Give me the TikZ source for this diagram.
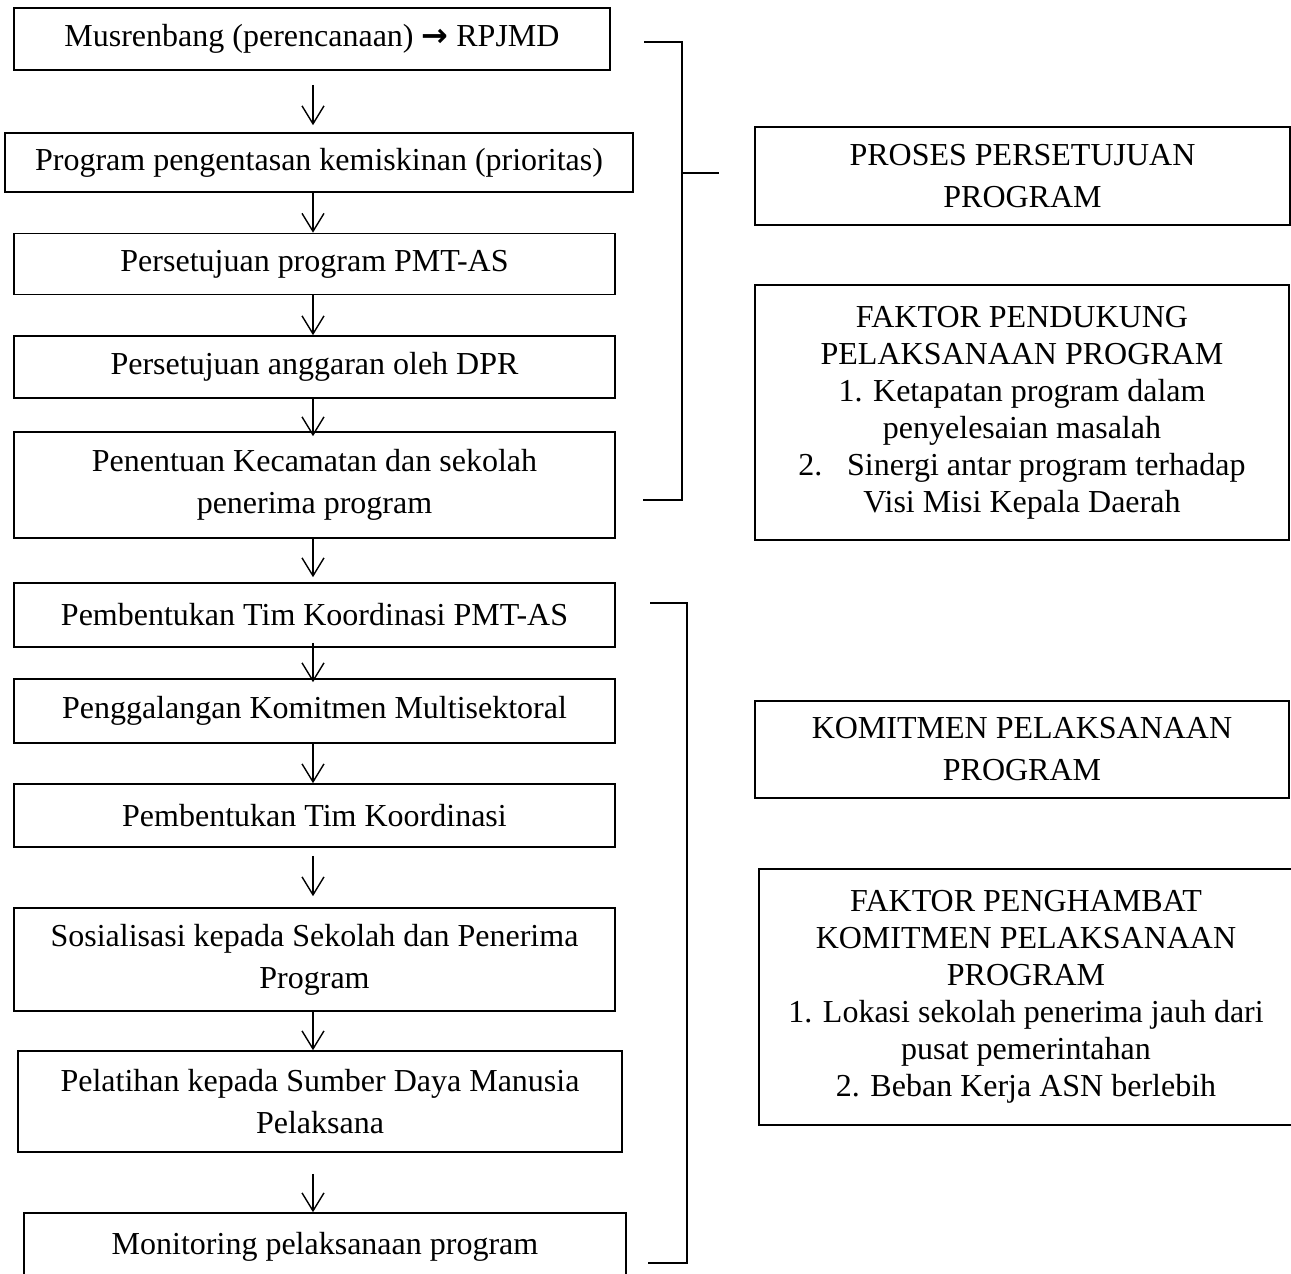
\documentclass[tikz,border=0pt]{standalone}
\usepackage{fontspec}
\setmainfont{Liberation Serif}
\newfontfamily\symfont{DejaVu Sans}
\usetikzlibrary{arrows.meta,positioning,calc}

\begin{document}
\begin{tikzpicture}[x=1pt,y=-1pt,
        stepbox/.style={draw, line width=1.6pt, align=center, inner sep=0pt,
            font=\fontsize{32}{37}\selectfont},
        twoline/.style={font=\fontsize{32}{42}\selectfont},
        sz/.style 2 args={minimum width=#1pt, minimum height=#2pt},
        flow/.style={-{Straight Barb[length=18pt,width=22pt,line width=1.4pt]}, line width=1.4pt},
        bracket/.style={line width=2pt}]
    \useasboundingbox (0,0) rectangle (1291,1274);

    % left column
    \node[stepbox, sz={596}{62}] (musren) at (312,39) {Musrenbang (perencanaan) {\symfont\bfseries →} RPJMD};
    \node[stepbox, sz={628}{59}] (prog) at (319,162.5) {Program pengentasan kemiskinan (prioritas)};
    \node[stepbox, sz={601}{61}] (setprog) at (314.5,264) {Persetujuan program PMT-AS};
    \node[stepbox, sz={601}{62}] (setang) at (314.5,367) {Persetujuan anggaran oleh DPR};
    \node[stepbox, twoline, sz={601}{106}] (tentu) at (314.5,485) {Penentuan Kecamatan dan sekolah\\penerima program};
    \node[stepbox, sz={601}{64}] (timpmt) at (314.5,615) {Pembentukan Tim Koordinasi PMT-AS};
    \node[stepbox, sz={601}{64}] (galang) at (314.5,711) {Penggalangan Komitmen Multisektoral};
    \node[stepbox, sz={601}{63}] (tim) at (314.5,815.5) {Pembentukan Tim Koordinasi};
    \node[stepbox, twoline, sz={601}{103}] (sosial) at (314.5,959.5) {Sosialisasi kepada Sekolah dan Penerima\\Program};
    \node[stepbox, twoline, sz={604}{101}] (latih) at (320,1101.5) {Pelatihan kepada Sumber Daya Manusia\\Pelaksana};
    \node[stepbox, sz={602}{68}] (monitor) at (325,1247) {Monitoring pelaksanaan program};

    \coordinate (axis) at (313,0);
    \foreach \a/\b/\s/\e in {musren/prog/14/7, prog/setprog/0/0, setprog/setang/0/0,
            setang/tentu/0/-5, tentu/timpmt/0/5, timpmt/galang/-5/-4, galang/tim/0/0,
            tim/sosial/8/11, sosial/latih/0/0, latih/monitor/21/0}
        \draw[flow, shorten <=\s pt, shorten >=\e pt] (\a.south -| axis) -- (\b.north -| axis);

    % brackets
    \coordinate (topA) at (644,42);
    \coordinate (botA) at (643,500);
    \coordinate (tickA) at (682,173);
    \draw[bracket] (topA) -- (topA -| tickA) -- (botA -| tickA) -- (botA);
    \draw[bracket] (tickA) -- ++(37,0);
    \coordinate (topB) at (650,603);
    \coordinate (botB) at (648,1263);
    \draw[bracket] (topB) -- ++(37,0) coordinate (cornB) -- (botB -| cornB) -- (botB);

    % right column
    \node[stepbox, twoline, sz={535}{98}] (proses) at (1022.5,176) {PROSES PERSETUJUAN\\PROGRAM};
    \node[stepbox, sz={534}{255}] (dukung) at (1022,412.5) {FAKTOR PENDUKUNG\\PELAKSANAAN PROGRAM\\1. Ketapatan program dalam\\penyelesaian masalah\\2.\hspace{14pt} Sinergi antar program terhadap\\Visi Misi Kepala Daerah};
    \node[stepbox, twoline, sz={534}{97}] (komit) at (1022,749.5) {KOMITMEN PELAKSANAAN\\PROGRAM};
    \node[stepbox, sz={534}{256}] (hambat) at (1026,997) {FAKTOR PENGHAMBAT\\KOMITMEN PELAKSANAAN\\PROGRAM\\1. Lokasi sekolah penerima jauh dari\\pusat pemerintahan\\2. Beban Kerja ASN berlebih};
\end{tikzpicture}
\end{document}
